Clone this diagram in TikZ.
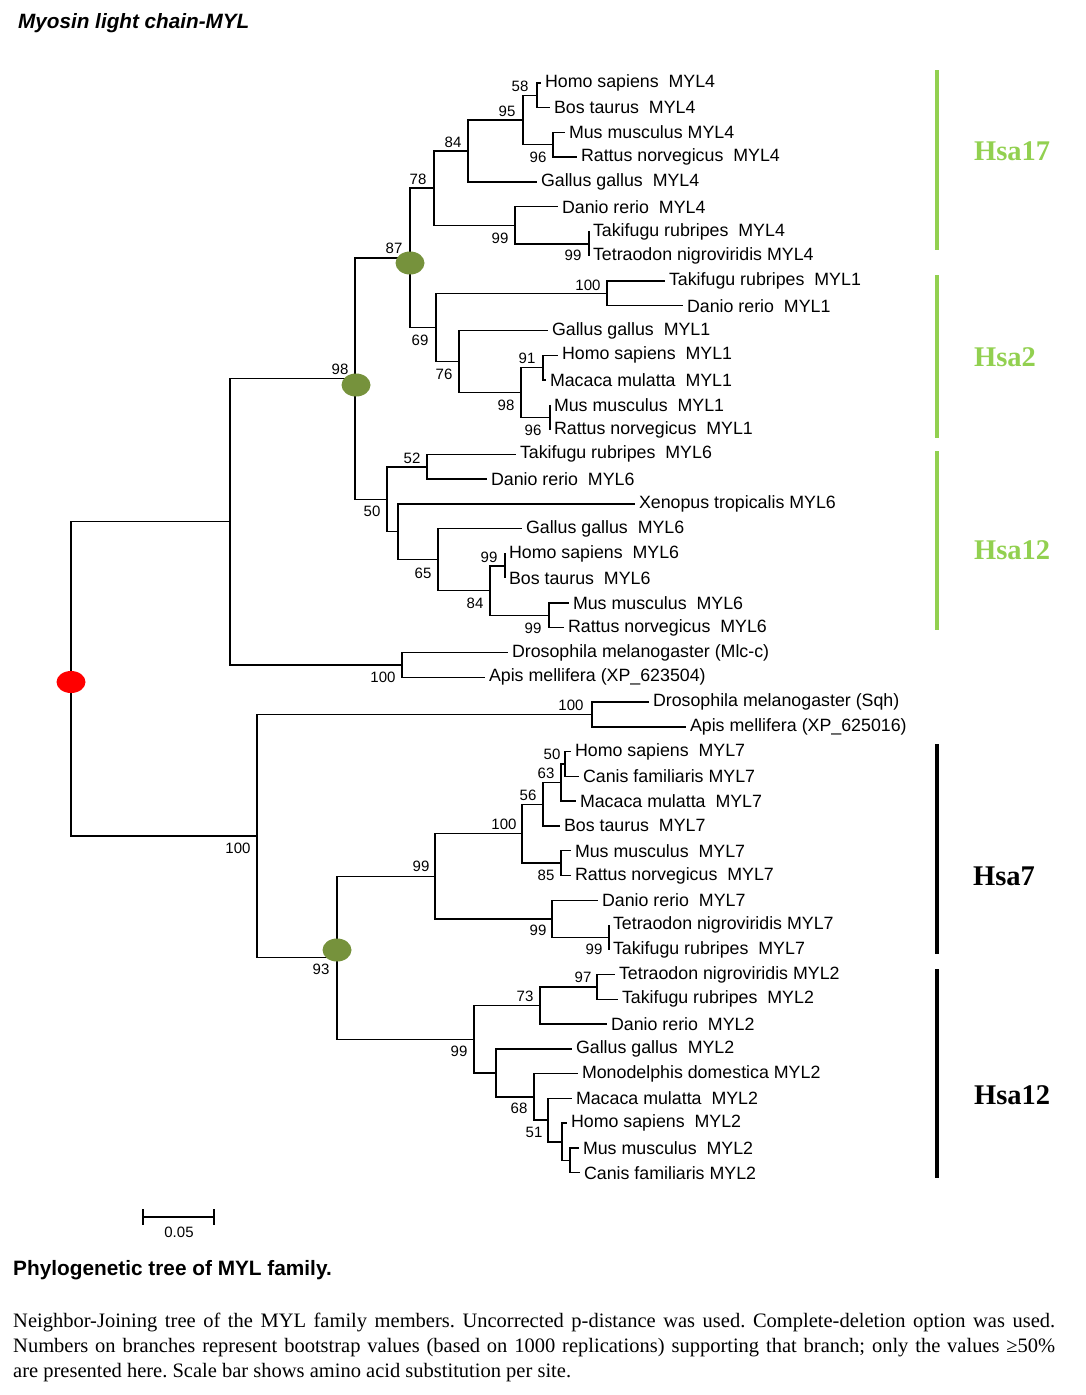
\documentclass[tikz,border=0pt]{standalone}
\usepackage{fontspec}
\setmainfont{Liberation Serif}
\setsansfont{Liberation Sans}
\usetikzlibrary{shapes.geometric}
\definecolor{hsagreen}{RGB}{146,208,80}
\definecolor{dupgreen}{RGB}{118,146,60}
\newcommand{\leaffont}{\sffamily\fontsize{17.8}{20}\selectfont}
\newcommand{\bootfont}{\sffamily\fontsize{15}{17}\selectfont}
\frenchspacing

\begin{document}
\begin{tikzpicture}[x=1pt,y=-1pt]
  \tikzset{branch/.style = {draw, line width=1.4pt}}
  \tikzset{leaf/.style = {anchor=west, inner xsep=4pt, inner ysep=0pt, outer sep=0pt, font=\leaffont}}
  \tikzset{boot/.style = {inner sep=0pt, font=\bootfont}}
  \tikzset{dupnode/.style = {shape=ellipse, fill=dupgreen, minimum width=29pt, minimum height=23pt, inner sep=0pt}}
  \tikzset{rootnode/.style = {shape=ellipse, fill=red, minimum width=29pt, minimum height=22pt, inner sep=0pt}}
  \tikzset{hsabar/.style = {line width=4.7pt}}
  \tikzset{hsalabel/.style = {anchor=west, inner sep=0pt, font=\rmfamily\bfseries\fontsize{28.5}{30}\selectfont}}
  \tikzset{parline/.style = {anchor=base west, inner sep=0pt, font=\rmfamily\fontsize{20.5}{24}\selectfont}}

  \useasboundingbox (0,0) rectangle (1086,1395);

  \node[anchor=west, inner sep=0pt, font=\sffamily\bfseries\itshape\fontsize{20.7}{24}\selectfont] (title) at (18,23) {Myosin light chain-MYL};

  % leaves
  \foreach \nm/\x/\i/\txt in {
    hs4/541/1/{Homo sapiens~~MYL4}, bt4/550/2/{Bos taurus~~MYL4}, mm4/565/3/{Mus musculus MYL4},
    rn4/577/4/{Rattus norvegicus~~MYL4}, gg4/537/5/{Gallus gallus~~MYL4}, dr4/558/6/{Danio rerio~~MYL4},
    tr4/589/7/{Takifugu rubripes~~MYL4}, tn4/589/8/{Tetraodon nigroviridis MYL4},
    tr1/665/9/{Takifugu rubripes~~MYL1}, dr1/683/10/{Danio rerio~~MYL1}, gg1/548/11/{Gallus gallus~~MYL1},
    hs1/558/12/{Homo sapiens~~MYL1}, ml1/546/13/{Macaca mulatta~~MYL1}, mm1/550/14/{Mus musculus~~MYL1},
    rn1/550/15/{Rattus norvegicus~~MYL1},
    tr6/516/16/{Takifugu rubripes~~MYL6}, dr6/487/17/{Danio rerio~~MYL6}, xt6/635/18/{Xenopus tropicalis MYL6},
    gg6/522/19/{Gallus gallus~~MYL6}, hs6/505/20/{Homo sapiens~~MYL6}, bt6/505/21/{Bos taurus~~MYL6},
    mm6/569/22/{Mus musculus~~MYL6}, rn6/564/23/{Rattus norvegicus~~MYL6},
    dmMlc/508/24/{Drosophila melanogaster (Mlc-c)}, amA/485/25/{Apis mellifera (XP\_623504)},
    dmSqh/649/26/{Drosophila melanogaster (Sqh)}, amB/686/27/{Apis mellifera (XP\_625016)},
    hs7/571/28/{Homo sapiens~~MYL7}, cf7/579/29/{Canis familiaris MYL7}, ml7/576/30/{Macaca mulatta~~MYL7},
    bt7/560/31/{Bos taurus~~MYL7}, mm7/571/32/{Mus musculus~~MYL7}, rn7/571/33/{Rattus norvegicus~~MYL7},
    dr7/598/34/{Danio rerio~~MYL7}, tn7/609/35/{Tetraodon nigroviridis MYL7}, tr7/609/36/{Takifugu rubripes~~MYL7},
    tn2/615/37/{Tetraodon nigroviridis MYL2}, tr2/618/38/{Takifugu rubripes~~MYL2}, dr2/607/39/{Danio rerio~~MYL2},
    gg2/572/40/{Gallus gallus~~MYL2}, md2/578/41/{Monodelphis domestica MYL2}, ml2/572/42/{Macaca mulatta~~MYL2},
    hs2/567/43/{Homo sapiens~~MYL2}, mm2/579/44/{Mus musculus~~MYL2}, cf2/580/45/{Canis familiaris MYL2}}
    \node[leaf] (\nm) at (\x,{82.8+24.77*(\i-1)}) {\txt};

  % inner nodes, upper part
  \coordinate (a58) at (537,95.2);
  \coordinate (a96) at (553,144.7);
  \coordinate (a95) at (523,120.0);
  \coordinate (a84) at (468,150.9);
  \coordinate (t99) at (589,243.8);
  \coordinate (d99) at (515,225.3);
  \coordinate (a78) at (434,188.1);
  \coordinate (f100) at (607,293.4);
  \coordinate (p91) at (543,367.7);
  \coordinate (r96) at (550,417.2);
  \coordinate (m98) at (521,392.4);
  \coordinate (a76) at (459,361.5);
  \coordinate (a69) at (436,327.4);
  \coordinate (a87) at (410,257.8);
  \coordinate (c52) at (427,466.8);
  \coordinate (h99) at (505,565.8);
  \coordinate (k99) at (549,615.4);
  \coordinate (e84) at (490,590.6);
  \coordinate (a65) at (438,559.6);
  \coordinate (x50) at (398,531.7);
  \coordinate (a50) at (387,499.3);
  \coordinate (a98) at (355,378.5);
  \coordinate (i100) at (402,664.9);
  \coordinate (nA) at (230,521.7);
  % inner nodes, lower part
  \coordinate (q100) at (592,714.5);
  \coordinate (s50) at (565,764.0);
  \coordinate (s63) at (561,782.6);
  \coordinate (s56) at (543,804.2);
  \coordinate (s85) at (561,863.1);
  \coordinate (s100) at (522,833.7);
  \coordinate (f99t) at (609,937.4);
  \coordinate (f99d) at (552,918.8);
  \coordinate (s99) at (435,876.2);
  \coordinate (g97) at (597,986.9);
  \coordinate (g73) at (540,1005.5);
  \coordinate (gcm) at (570,1160.3);
  \coordinate (ghs) at (562,1141.8);
  \coordinate (g51) at (548,1120.1);
  \coordinate (g68) at (534,1096.8);
  \coordinate (ggg) at (496,1072.8);
  \coordinate (g99) at (474,1039.2);
  \coordinate (g93) at (337,957.7);
  \coordinate (nB) at (257,836.1);
  \coordinate (root) at (71,678.9);

  \foreach \from/\to in {a95/a58, a95/a96, a84/a95, a78/a84, d99/t99, a78/d99, a87/a78,
    m98/p91, m98/r96, a76/m98, a69/f100, a69/a76, a87/a69, a98/a87,
    e84/h99, e84/k99, a65/e84, x50/a65, a50/c52, a50/x50, a98/a50, nA/a98, nA/i100, root/nA,
    s63/s50, s56/s63, s100/s56, s100/s85, f99d/f99t, s99/s100, s99/f99d,
    g73/g97, ghs/gcm, g51/ghs, g68/g51, ggg/g68, g99/g73, g99/ggg,
    g93/s99, g93/g99, nB/q100, nB/g93, root/nB}
    \path[branch] (\from) |- (\to);

  \foreach \from/\to in {a58/hs4, a58/bt4, a96/mm4, a96/rn4, a84/gg4, d99/dr4, t99/tr4, t99/tn4,
    f100/tr1, f100/dr1, a76/gg1, p91/hs1, p91/ml1, r96/mm1, r96/rn1,
    c52/tr6, c52/dr6, x50/xt6, a65/gg6, h99/hs6, h99/bt6, k99/mm6, k99/rn6,
    i100/dmMlc, i100/amA, q100/dmSqh, q100/amB,
    s50/hs7, s50/cf7, s63/ml7, s56/bt7, s85/mm7, s85/rn7, f99d/dr7, f99t/tn7, f99t/tr7,
    g97/tn2, g97/tr2, g73/dr2, ggg/gg2, g68/md2, g51/ml2, ghs/hs2, gcm/mm2, gcm/cf2}
    \path[branch] (\from) |- (\to.west);

  % bootstrap values
  \foreach \nm/\x/\y/\v in {
    bA1/520/86/58, bA2/507/111/95, bA3/453/142/84, bA4/538/157/96, bA5/418/179/78,
    bA6/500/238/99, bA7/573/255/99, bA8/394/248/87, bA9/588/285/100, bA10/420/340/69,
    bA11/527/358/91, bA12/444/374/76, bA13/506/405/98, bA14/533/430/96, bA15/340/369/98,
    bA16/412/458/52, bA17/372/511/50, bA18/489/557/99, bA19/423/573/65, bA20/475/603/84,
    bA21/533/628/99, bA22/383/677/100,
    bB1/571/705/100, bB2/552/754/50, bB3/546/773/63, bB4/528/795/56, bB5/504/824/100,
    bB6/546/875/85, bB7/421/866/99, bB8/538/930/99, bB9/594/949/99, bB10/238/848/100,
    bB11/321/969/93, bB12/583/977/97, bB13/525/996/73, bB14/459/1051/99, bB15/519/1108/68,
    bB16/534/1132/51}
    \node[boot] (\nm) at (\x,\y) {\v};

  % duplication marks
  \node[dupnode] (dupA) at (410,263) {};
  \node[dupnode] (dupB) at (356,385) {};
  \node[dupnode] (dupC) at (337,950) {};
  \node[rootnode] (rootdot) at (71,682) {};

  % chromosome bars
  \draw[hsabar, hsagreen] (937,70) -- (937,250);
  \draw[hsabar, hsagreen] (937,275) -- (937,438);
  \draw[hsabar, hsagreen] (937,451) -- (937,630);
  \draw[hsabar, black] (937,744) -- (937,954);
  \draw[hsabar, black] (937,969) -- (937,1178);
  \node[hsalabel, text=hsagreen] (h17) at (974,151) {Hsa17};
  \node[hsalabel, text=hsagreen] (h2) at (974,357) {Hsa2};
  \node[hsalabel, text=hsagreen] (h12a) at (974,550) {Hsa12};
  \node[hsalabel] (h7) at (973,876) {Hsa7};
  \node[hsalabel] (h12b) at (974,1095) {Hsa12};

  % scale bar
  \coordinate (sbL) at (143,1217);
  \coordinate (sbR) at (214,1217);
  \draw[line width=1.4pt] (sbL) -- (sbR);
  \draw[line width=1.4pt] (sbL) ++(0,-8) -- ++(0,16);
  \draw[line width=1.4pt] (sbR) ++(0,-8) -- ++(0,16);
  \node[boot] (sblabel) at (179,1232) {0.05};

  % caption
  \node[anchor=west, inner sep=0pt, font=\sffamily\bfseries\fontsize{20.8}{24}\selectfont] (caption) at (13,1270) {Phylogenetic tree of MYL family.};
  \node[parline] (para1) at (13,1327)
    {\makebox[1042pt][s]{Neighbor-Joining tree of the MYL family members. Uncorrected p-distance was used. Complete-deletion option was used.}};
  \node[parline] (para2) at (13,1352)
    {\makebox[1042pt][s]{Numbers on branches represent bootstrap values (based on 1000 replications) supporting that branch; only the values ≥50\%}};
  \node[parline] (para3) at (13,1377)
    {are presented here. Scale bar shows amino acid substitution per site.};
\end{tikzpicture}
\end{document}
